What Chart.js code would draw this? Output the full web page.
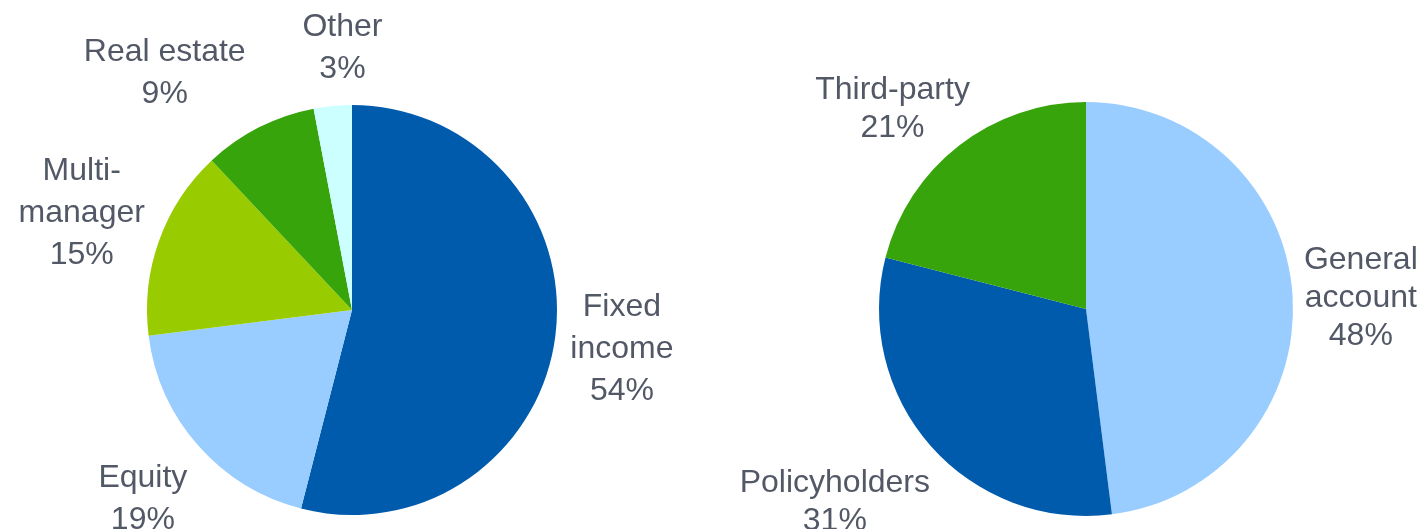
<!DOCTYPE html>
<html>
<head>
<meta charset="utf-8">
<script src="https://cdn.jsdelivr.net/npm/chart.js@4/dist/chart.umd.min.js"></script>
<style>
  body { margin: 0; background: #fff; }
  .wrap { position: absolute; top: 0; width: 711px; height: 529px; }
</style>
</head>
<body>
<div class="wrap" style="left:0"><canvas id="chartLeft"></canvas></div>
<div class="wrap" style="left:711px"><canvas id="chartRight"></canvas></div>
<script>
// left pie: asset classes
const leftLabels = [['Fixed', 'income'], ['Equity'], ['Multi-', 'manager'], ['Real estate'], ['Other']]
const leftValues = [54, 19, 15, 9, 3]
const leftColors = ['#005BAC', '#99CCFF', '#99CC00', '#36A40A', '#CCFFFF']

// right pie: source of assets
const rightLabels = [['General', 'account'], ['Policyholders'], ['Third-party']]
const rightValues = [48, 31, 21]
const rightColors = ['#99CCFF', '#005BAC', '#36A40A']

// hand nudges for the label boxes (px), like in the original slide
const leftNudge = [[-2, 5], [-2, 7], [8, 3], [-56, 21], [15, -2]]
const rightNudge = [[-2, 7], [-16, -14], [-13, 33]]

const textColor = '#525866'
const labelFont = '32px "Liberation Sans", Arial, sans-serif'
const gap = 10

// draws label + percent outside each slice
const outsideLabels = {
    id: 'outsideLabels',
    afterDatasetsDraw(chart) {
        const ctx = chart.ctx
        const meta = chart.getDatasetMeta(0)
        const vals = chart.data.datasets[0].data
        const opts = chart.options.plugins.outsideLabels
        const lineH = opts.lineH
        ctx.save()
        ctx.font = labelFont
        ctx.fillStyle = textColor
        ctx.textAlign = 'center'
        ctx.textBaseline = 'middle'
        meta.data.forEach((arc, i) => {
            const lines = chart.data.labels[i].concat([vals[i] + '%'])
            const w = Math.max(...lines.map(l => ctx.measureText(l).width))
            const h = lines.length * lineH
            const mid = (arc.startAngle + arc.endAngle) / 2
            const ux = Math.cos(mid), uy = Math.sin(mid)
            const d = arc.outerRadius + gap + Math.abs(ux) * w / 2 + Math.abs(uy) * h / 2
            const cx = arc.x + ux * d + opts.nudge[i][0]
            const cy = arc.y + uy * d + opts.nudge[i][1]
            lines.forEach((l, k) => {
                ctx.fillText(l, cx, cy - h / 2 + lineH * (k + 0.5))
            })
        })
        ctx.restore()
    }
}

const makePie = (id, labels, values, colors, padding, nudge, lineH) => {
    return new Chart(document.getElementById(id), {
        type: 'pie',
        data: {
            labels: labels,
            datasets: [{
                data: values,
                backgroundColor: colors,
                borderWidth: 0,
                hoverOffset: 0
            }]
        },
        options: {
            responsive: true,
            maintainAspectRatio: false,
            animation: false,
            layout: { padding: padding },
            plugins: {
                legend: { display: false },
                tooltip: { enabled: false },
                outsideLabels: { nudge: nudge, lineH: lineH }
            }
        },
        plugins: [outsideLabels]
    })
}

makePie('chartLeft', leftLabels, leftValues, leftColors, { left: 147, right: 154, top: 105, bottom: 14 }, leftNudge, 42)
makePie('chartRight', rightLabels, rightValues, rightColors, { left: 168, right: 129, top: 102, bottom: 13 }, rightNudge, 38)
</script>
</body>
</html>
